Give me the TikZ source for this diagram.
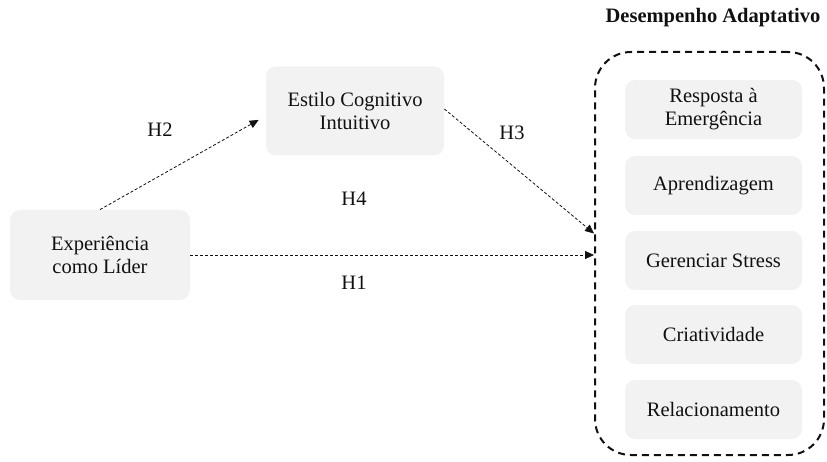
\documentclass[tikz,border=0pt]{standalone}
\usepackage{fontspec}
\setmainfont{Liberation Serif}
\usepackage{tikz}
\usetikzlibrary{arrows.meta,positioning}
\definecolor{ink}{HTML}{111111}
\definecolor{boxgray}{HTML}{F2F2F2}
\tikzset{
  >={Triangle[length=9pt,width=8pt]},
  every picture/.style={line width=0.8pt,font=\fontsize{20.5}{23}\selectfont},
  bx/.style={fill=boxgray,rounded corners=10pt,align=center,text=ink,inner sep=2pt},
  bxs/.style={bx,minimum width=177pt,minimum height=59pt},
  grp/.style={draw=ink,line width=2pt,dash pattern=on 7pt off 5pt,rounded corners=36pt,minimum width=229pt,minimum height=403pt},
  arr/.style={->,draw=ink,dash pattern=on 3pt off 2pt},
  lab/.style={text=ink},
  ttl/.style={font=\fontsize{20.5}{23}\selectfont\bfseries,text=ink},
}
\begin{document}
\begin{tikzpicture}[x=1pt,y=1pt]
  \useasboundingbox (0,0) rectangle (827,-462);
  \node[bx,minimum width=180pt,minimum height=90pt] (exp) at (100,-255) {Experiência\\como Líder};
  \node[bx,minimum width=178pt,minimum height=89pt] (est) at (355,-111) {Estilo Cognitivo\\Intuitivo};
  \node[grp] (dp) at (709.5,-253.5) {};
  \node[ttl] (tit) at (713,-18) {Desempenho Adaptativo};
  \node[bxs] (resp) at (713.5,-109.5) {Resposta à\\Emergência};
  \node[bxs] (apr) at (713.5,-185.5) {Aprendizagem};
  \node[bxs] (ger) at (713.5,-260.5) {Gerenciar Stress};
  \node[bxs] (cri) at (713.5,-334.5) {Criatividade};
  \node[bxs] (rel) at (713.5,-409.5) {Relacionamento};
  \coordinate (dpin) at ([yshift=20pt]dp.west);
  \draw[arr,shorten >=8pt] (exp.north) -- ([yshift=-5pt]est.west);
  \draw[arr] ([yshift=2pt]est.east) -- (dpin);
  \draw[arr] (exp) -- (exp -| dp.west);
  \node[lab] (h2) at (160,-130) {H2};
  \node[lab] (h3) at (512,-133) {H3};
  \node[lab] (h4) at (354,-199) {H4};
  \node[lab] (h1) at (354,-283) {H1};
\end{tikzpicture}
\end{document}
